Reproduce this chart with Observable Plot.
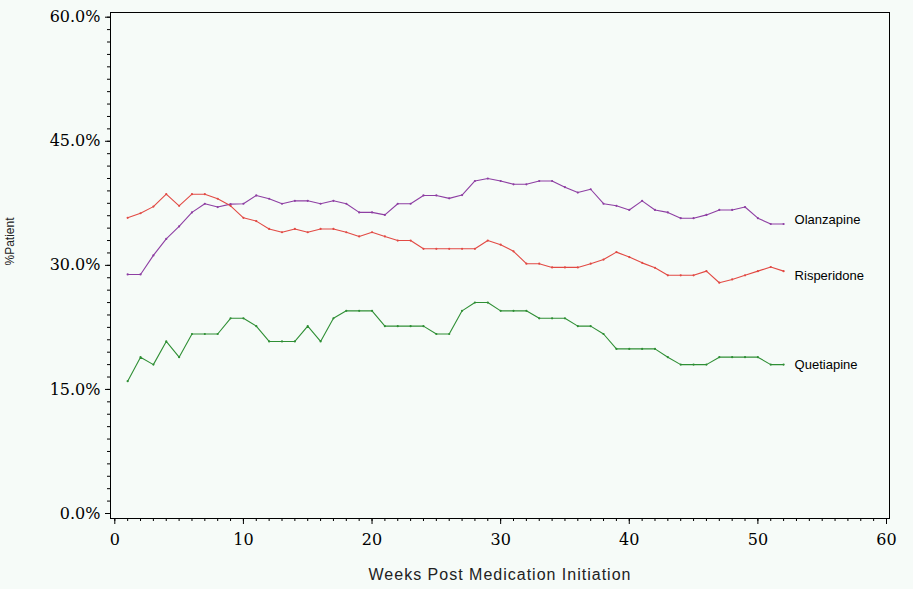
<!DOCTYPE html>
<html>
<head>
<meta charset="utf-8">
<script src="https://cdn.jsdelivr.net/npm/d3@7"></script>
<script src="https://cdn.jsdelivr.net/npm/@observablehq/plot@0.6"></script>
<style>
  html, body { margin: 0; padding: 0; background: #f6fbf8; }
  #chart svg { display: block; }
</style>
</head>
<body>
<div id="chart"></div>
<script>
const weeks = [1,2,3,4,5,6,7,8,9,10,11,12,13,14,15,16,17,18,19,20,21,22,23,24,25,26,
  27,28,29,30,31,32,33,34,35,36,37,38,39,40,41,42,43,44,45,46,47,48,49,50,51,52];

const olanzapine = [28.9,28.9,31.2,33.2,34.7,36.4,37.45,37.05,37.4,37.45,38.45,38.05,37.45,37.8,37.8,37.45,37.8,37.45,36.4,36.4,
  36.1,37.45,37.45,38.45,38.45,38.1,38.5,40.2,40.5,40.2,39.8,39.8,40.2,40.2,39.45,38.8,39.2,37.45,37.2,36.7,
  37.8,36.7,36.4,35.7,35.7,36.1,36.7,36.7,37.05,35.7,35.0,35.0];

const risperidone = [35.75,36.3,37.1,38.6,37.2,38.6,38.6,38.05,37.2,35.75,35.35,34.4,34.0,34.4,34.0,34.4,34.4,34.0,33.5,34.0,
  33.5,33.0,33.0,32.0,32.0,32.0,32.0,32.0,33.0,32.5,31.7,30.2,30.2,29.75,29.75,29.75,30.2,30.7,31.6,31.0,
  30.3,29.7,28.8,28.8,28.8,29.3,27.9,28.3,28.8,29.3,29.8,29.3];

const quetiapine = [16.0,18.9,18.0,20.8,18.9,21.7,21.7,21.7,23.6,23.6,22.65,20.8,20.8,20.8,22.65,20.8,23.6,24.5,24.5,24.5,
  22.65,22.65,22.65,22.65,21.7,21.7,24.5,25.5,25.5,24.5,24.5,24.5,23.6,23.6,23.6,22.65,22.65,21.7,19.9,19.9,
  19.9,19.9,18.9,18.0,18.0,18.0,18.9,18.9,18.9,18.9,18.0,18.0];

const seriesNames = ["Olanzapine", "Risperidone", "Quetiapine"];
const seriesValues = [olanzapine, risperidone, quetiapine];
const seriesColors = ["#8e3fa3", "#e24a44", "#2f8f35"];

const xTicks = [0, 10, 20, 30, 40, 50, 60];
const yTicks = [0, 15, 30, 45, 60];
const xTitle = "Weeks Post Medication Initiation";
const yTitle = "%Patient";

const rows = [];
seriesNames.forEach((name, i) => {
  weeks.forEach((w, j) => rows.push({series: name, week: w, pct: seriesValues[i][j]}));
});
const lastRows = seriesNames.map(name => rows.filter(r => r.series === name).at(-1));
const labelDy = {Olanzapine: -4, Risperidone: 5, Quetiapine: 0};

const serif = "'DejaVu Serif', serif";
const sans = "'Liberation Sans', Arial, sans-serif";

const chart = Plot.plot({
  width: 913,
  height: 589,
  marginLeft: 110,
  marginRight: 24,
  marginTop: 12,
  marginBottom: 71,
  style: {background: "#f6fbf8", color: "#000", overflow: "visible"},
  x: {domain: [0, 60], range: [114.3, 886]},
  y: {domain: [0, 60], range: [513, 16.7]},
  color: {domain: seriesNames, range: seriesColors},
  marks: [
    Plot.frame({stroke: "#000", strokeWidth: 1}),
    // minor ticks
    Plot.axisY({ticks: d3.range(0, 60.01, 1.5), tickSize: 3, text: null, label: null}),
    Plot.axisX({ticks: d3.range(0, 60.01, 1), tickSize: 3, text: null, label: null}),
    // major ticks with labels
    Plot.axisY({ticks: yTicks, tickSize: 5, tickPadding: 5, tickFormat: d => d.toFixed(1) + "%",
      label: null, fontFamily: serif, fontSize: 16}),
    Plot.axisX({ticks: xTicks, tickSize: 6, tickPadding: 9, tickFormat: d => String(d),
      label: null, fontFamily: serif, fontSize: 16}),
    Plot.text([xTitle], {frameAnchor: "bottom", dy: 61,
      fontFamily: sans, fontSize: 16, fill: "#222"}),
    Plot.text([yTitle], {frameAnchor: "left", dx: -100, rotate: -90,
      fontFamily: sans, fontSize: 12, fill: "#222"}),
    Plot.line(rows, {x: "week", y: "pct", z: "series", stroke: "series", strokeWidth: 1.1}),
    Plot.dot(rows, {x: "week", y: "pct", fill: "series", r: 1.1, stroke: null}),
    ...seriesNames.map(name => Plot.text(lastRows.filter(r => r.series === name), {
      x: "week", y: "pct", text: "series", dx: 11, dy: labelDy[name], textAnchor: "start",
      fontFamily: sans, fontSize: 13, fill: "#000"}))
  ]
});
d3.select(chart).selectAll("text")
  .filter(function() { return this.textContent === xTitle; })
  .style("letter-spacing", "1px");
document.getElementById("chart").appendChild(chart);
</script>
</body>
</html>
